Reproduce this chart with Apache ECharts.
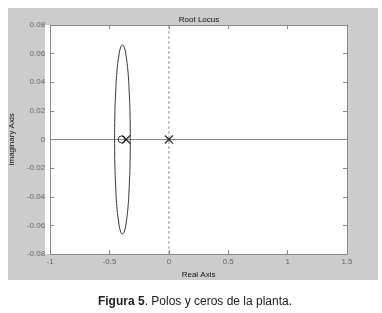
<!DOCTYPE html>
<html><head><meta charset="utf-8">
<script src="https://cdn.jsdelivr.net/npm/echarts@6/dist/echarts.min.js"></script>
<style>html,body{margin:0;padding:0;background:#fff}#c{width:382px;height:313px}</style>
</head><body><div id="c"></div>
<script>
// Root locus branch (circle around the zero)
const locusReal = [-0.325,-0.327,-0.334,-0.344,-0.358,-0.374,-0.391,-0.408,-0.424,-0.438,-0.448,-0.455,-0.457,-0.455,-0.448,-0.438,-0.424,-0.408,-0.391,-0.374,-0.358,-0.344,-0.334,-0.327,-0.325];
const locusImag = [0,0.017,0.033,0.047,0.057,0.064,0.066,0.064,0.057,0.047,0.033,0.017,0,-0.017,-0.033,-0.047,-0.057,-0.064,-0.066,-0.064,-0.057,-0.047,-0.033,-0.017,0];
const polesReal = [-0.36, 0];
const polesImag = [0, 0];
const zerosReal = [-0.398];
const zerosImag = [0];
const xTicks = [-1, -0.5, 0, 0.5, 1, 1.5];
const yTicks = [-0.08, -0.06, -0.04, -0.02, 0, 0.02, 0.04, 0.06, 0.08];
const xRange = [-1, 1.5];
const yRange = [-0.08, 0.08];

const font = 'Liberation Sans, Arial, sans-serif';
const chart = echarts.init(document.getElementById('c'), null, {renderer:'canvas'});
const zip = (a,b) => a.map((v,i)=>[v,b[i]]);
const tickLbl = {color:'#666', fontSize:8, fontFamily:font};
chart.setOption({
  backgroundColor:'#fff',
  animation:false,
  graphic:[
    {type:'rect', z:-10, shape:{x:8,y:8,width:370,height:272}, style:{fill:'#cccccc'}},
    {type:'rect', z:-9, shape:{x:45,y:25,width:302,height:229}, style:{fill:'#fff'}}
  ],
  title:[
    {text:'Root Locus', left:194, top:11, textAlign:'center', textStyle:{fontSize:8, fontWeight:'normal', color:'#111', fontFamily:font}},
    {text:'{b|Figura 5}{n|. Polos y ceros de la planta.}', left:190, top:291, textAlign:'center',
     textStyle:{fontWeight:'normal', rich:{b:{fontSize:12, fontWeight:'bold', color:'#222', fontFamily:font}, n:{fontSize:12, fontWeight:'normal', color:'#222', fontFamily:font}}}}
  ],
  grid:{left:45, top:25, right:35, bottom:59, show:false},
  xAxis:[
    {type:'value', min:xRange[0], max:xRange[1], interval:0.5, position:'bottom',
     name:'Real Axis', nameLocation:'middle', nameGap:17, nameTextStyle:{fontSize:8, color:'#111', fontFamily:font},
     axisLine:{show:true, onZero:false, lineStyle:{color:'#888'}},
     axisTick:{inside:true, length:4, lineStyle:{color:'#888'}},
     axisLabel:{...tickLbl, margin:4, formatter:v=>String(v)},
     splitLine:{show:false}},
    {type:'value', min:xRange[0], max:xRange[1], interval:0.5, position:'top',
     axisLine:{show:true, onZero:false, lineStyle:{color:'#888'}},
     axisTick:{inside:true, length:4, lineStyle:{color:'#888'}},
     axisLabel:{show:false}, splitLine:{show:false}}
  ],
  yAxis:[
    {type:'value', min:yRange[0], max:yRange[1], interval:0.02, position:'left',
     name:'Imaginary Axis', nameLocation:'middle', nameGap:25, nameRotate:90, nameTextStyle:{fontSize:8, color:'#111', fontFamily:font},
     axisLine:{show:true, onZero:false, lineStyle:{color:'#888'}},
     axisTick:{inside:true, length:4, lineStyle:{color:'#888'}},
     axisLabel:{...tickLbl, margin:5, formatter:v=> v===0?'0':v.toFixed(2)},
     splitLine:{show:false}},
    {type:'value', min:yRange[0], max:yRange[1], interval:0.02, position:'right',
     axisLine:{show:true, onZero:false, lineStyle:{color:'#888'}},
     axisTick:{inside:true, length:4, lineStyle:{color:'#888'}},
     axisLabel:{show:false}, splitLine:{show:false}}
  ],
  series:[
    {type:'line', data:[[xRange[0],0],[xRange[1],0]], symbol:'none', lineStyle:{color:'#888', width:1}, silent:true, z:1},
    {type:'line', data:[[0,yRange[0]],[0,yRange[1]]], symbol:'none', lineStyle:{color:'#999', width:1, type:[3,2]}, silent:true, z:1},
    {type:'line', data:zip(locusReal, locusImag), symbol:'none', smooth:true, lineStyle:{color:'#333', width:1}, z:2},
    {type:'scatter', data:zip(zerosReal, zerosImag), symbol:'circle', symbolSize:7, z:5,
     itemStyle:{color:'rgba(0,0,0,0)', borderColor:'#000', borderWidth:1}},
    {type:'scatter', data:zip(polesReal, polesImag), symbol:'path://M0,0L10,10M10,0L0,10', symbolSize:8, z:6,
     itemStyle:{color:'rgba(0,0,0,0)', borderColor:'#000', borderWidth:1.2}}
  ]
});
</script></body></html>
